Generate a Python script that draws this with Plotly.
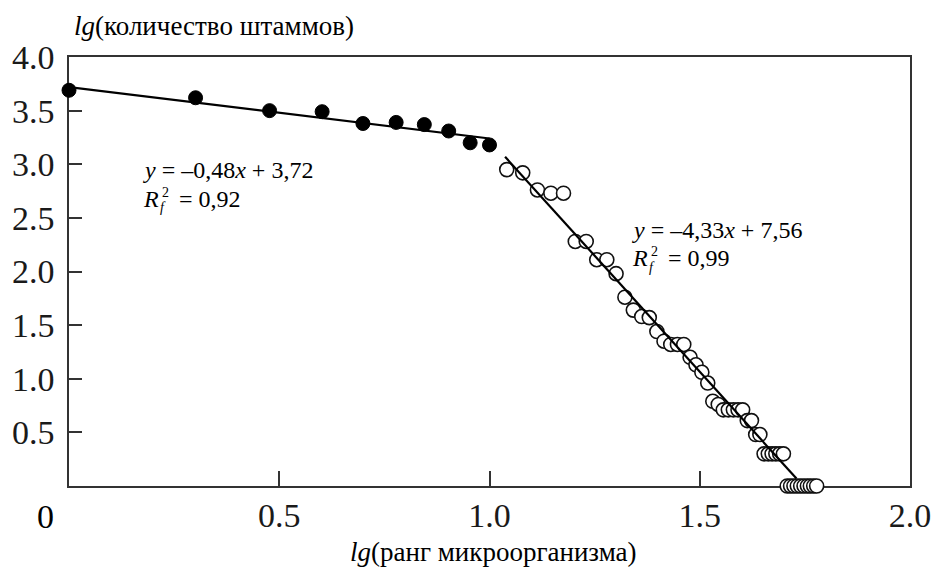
import plotly.graph_objects as go

# ---- data ----
x_filled = [0.0, 0.301, 0.477, 0.602, 0.699, 0.778, 0.845, 0.903, 0.954, 1.0]
y_filled = [3.69, 3.62, 3.50, 3.49, 3.38, 3.39, 3.37, 3.31, 3.20, 3.18]

x_open = [1.041, 1.079, 1.114, 1.146, 1.176, 1.204, 1.230, 1.255, 1.279, 1.301,
          1.322, 1.342, 1.362, 1.380, 1.398, 1.415, 1.431, 1.447, 1.462, 1.477,
          1.491, 1.505, 1.519, 1.531, 1.544, 1.556, 1.568, 1.580, 1.591, 1.602,
          1.613, 1.623, 1.633, 1.643, 1.653, 1.663, 1.672, 1.681, 1.690, 1.699,
          1.708, 1.716, 1.724, 1.732, 1.740, 1.748, 1.756, 1.763, 1.771, 1.778]
y_open = [2.95, 2.92, 2.76, 2.73, 2.73, 2.28, 2.28, 2.11, 2.11, 1.98,
          1.76, 1.64, 1.58, 1.57, 1.44, 1.35, 1.32, 1.32, 1.32, 1.20,
          1.13, 1.06, 0.96, 0.79, 0.76, 0.71, 0.71, 0.71, 0.71, 0.71,
          0.61, 0.61, 0.48, 0.48, 0.30, 0.30, 0.30, 0.30, 0.30, 0.30,
          0.0, 0.0, 0.0, 0.0, 0.0, 0.0, 0.0, 0.0, 0.0, 0.0]

# trend lines: slope, intercept, x extent
fit1_coef = [-0.48, 3.72]
fit1_x = [0.0, 1.0]
fit2_coef = [-4.33, 7.56]
fit2_x = [1.037, 1.73]

x_ticks = [0.5, 1.0, 1.5, 2.0]
x_ticktext = ["0.5", "1.0", "1.5", "2.0"]
y_ticks = [0.5, 1.0, 1.5, 2.0, 2.5, 3.0, 3.5, 4.0]
y_ticktext = ["0.5", "1.0", "1.5", "2.0", "2.5", "3.0", "3.5", "4.0"]

eq1 = ["<i>y</i> = –0,48<i>x</i> + 3,72", "= 0,92"]
eq2 = ["<i>y</i> = –4,33<i>x</i> + 7,56", "= 0,99"]
y_title = "<i>lg</i>(количество штаммов)"
x_title = "<i>lg</i>(ранг микроорганизма)"

FONT = "Liberation Serif"
W, H = 936, 574
L, R, T, B = 69, 26, 57, 88
PW, PH = W - L - R, H - T - B


def px(xp):
    return (xp - L) / PW


def py(yp):
    return (T + PH - yp) / PH


fig = go.Figure()

fig.add_trace(go.Scatter(
    x=x_filled, y=y_filled, mode="markers", cliponaxis=False,
    marker=dict(size=14, color="black", line=dict(color="black", width=1)),
    showlegend=False, hoverinfo="skip"))

fig.add_trace(go.Scatter(
    x=x_open, y=y_open, mode="markers", cliponaxis=False,
    marker=dict(size=14, color="white", line=dict(color="#111", width=1.6)),
    showlegend=False, hoverinfo="skip"))

for coef, xs in [(fit1_coef, fit1_x), (fit2_coef, fit2_x)]:
    fig.add_trace(go.Scatter(
        x=xs, y=[coef[0] * v + coef[1] for v in xs], mode="lines",
        line=dict(color="black", width=2.2), showlegend=False, hoverinfo="skip"))

ann = []


def eq_group(lines, x0, y1, y2):
    fs = 24
    ann.append(dict(x=px(x0), y=py(y1), text=lines[0], font=dict(size=fs)))
    ann.append(dict(x=px(x0), y=py(y2), text="<i>R</i>", font=dict(size=fs)))
    ann.append(dict(x=px(x0 + 19), y=py(y2 - 7), text="2", font=dict(size=14)))
    ann.append(dict(x=px(x0 + 17), y=py(y2 + 9), text="<i>f</i>", font=dict(size=14)))
    ann.append(dict(x=px(x0 + 36), y=py(y2), text=lines[1], font=dict(size=fs)))


eq_group(eq1, 141, 170, 199)
eq_group(eq2, 630, 230, 258)

ann.append(dict(x=px(72), y=py(26), text=y_title, font=dict(size=27)))
ann.append(dict(x=px(494), y=py(552), text=x_title, font=dict(size=27),
                xanchor="center"))
ann.append(dict(x=px(45), y=py(516), text="0", font=dict(size=34),
                xanchor="center"))

annotations = []
for a in ann:
    d = dict(xref="paper", yref="paper", xanchor="left", yanchor="middle",
             showarrow=False)
    d.update(a)
    d["font"] = dict(family=FONT, color="black", **a["font"])
    annotations.append(d)

axis_common = dict(showline=True, linecolor="#333", linewidth=1.5, mirror=True,
                   ticks="inside", tickcolor="#333", tickwidth=1.5,
                   showgrid=False, zeroline=False, layer="below traces",
                   automargin=False,
                   tickfont=dict(family=FONT, size=34, color="#1a1a1a"))

fig.update_layout(
    width=W, height=H,
    margin=dict(l=L, r=R, t=T, b=B, autoexpand=False),
    plot_bgcolor="white", paper_bgcolor="white",
    font=dict(family=FONT),
    xaxis=dict(range=[0, 2.0], tickvals=x_ticks, ticktext=x_ticktext,
               ticklen=15, ticklabelstandoff=-2, **axis_common),
    yaxis=dict(range=[0, 4.0], tickvals=y_ticks, ticktext=y_ticktext,
               ticklen=13, ticklabelstandoff=6, **axis_common),
    annotations=annotations,
)

fig.write_html("out.html")
